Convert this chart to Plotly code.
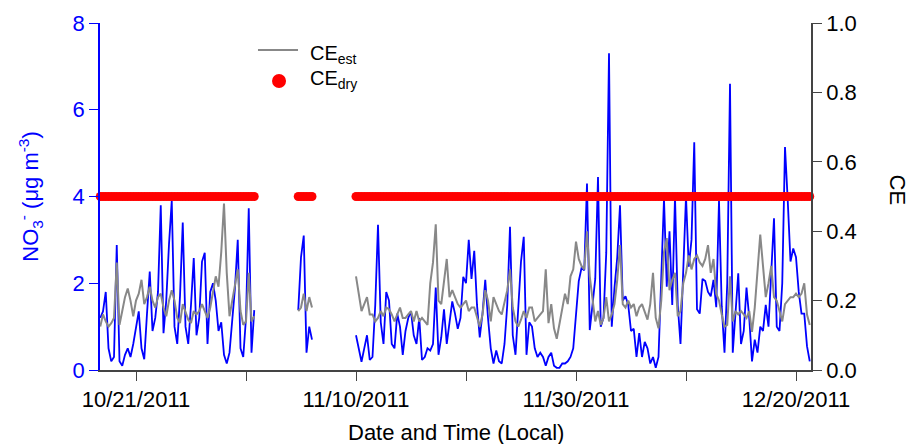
import pandas as pd
import plotly.graph_objects as go

# ---------------- data ----------------
# three measurement periods, values every 6 hours
SEG_STARTS = ["2011-10-17 18:00", "2011-11-04 18:00", "2011-11-10 00:00"]
STEP = "6h"

NO3_SEG1 = [1.2, 1.35, 1.8, 0.5, 0.2, 0.3, 2.88, 0.2, 0.1, 0.35, 0.5, 0.3, 0.6, 1.0, 1.35,
            0.5, 0.25, 1.3, 2.27, 0.9, 1.2, 1.8, 3.8, 0.85, 1.6, 2.9, 3.9, 1.0, 0.6, 1.7,
            3.4, 1.0, 0.6, 1.5, 2.58, 0.8, 1.2, 2.5, 2.7, 0.6, 1.8, 2.0, 1.6, 0.9, 1.1,
            0.35, 0.15, 0.4, 1.1, 1.9, 3.0, 0.5, 0.3, 1.2, 3.73, 0.4, 1.38]
CE_EST_SEG1 = [0.125, 0.16, 0.14, 0.125, 0.135, 0.15, 0.31, 0.13, 0.17, 0.21, 0.235, 0.2,
               0.155, 0.2, 0.22, 0.26, 0.19, 0.21, 0.24, 0.2, 0.18, 0.21, 0.22, 0.18, 0.155,
               0.2, 0.23, 0.2, 0.15, 0.135, 0.19, 0.17, 0.145, 0.135, 0.17, 0.16, 0.17, 0.19,
               0.17, 0.15, 0.18, 0.22, 0.27, 0.24, 0.34, 0.48, 0.28, 0.155, 0.2, 0.25, 0.29,
               0.17, 0.13, 0.14, 0.28, 0.14, 0.155]

NO3_SEG2 = [1.38, 2.6, 3.1, 0.4, 1.0, 0.7]
CE_EST_SEG2 = [0.17, 0.18, 0.22, 0.17, 0.21, 0.18]

NO3_SEG3 = [0.8, 0.46, 0.19, 0.5, 0.8, 0.23, 0.3, 1.5, 3.35, 1.1,
            0.6, 1.8, 1.6, 0.6, 0.5, 1.3, 1.0, 0.35, 0.9, 1.2,
            1.35, 0.8, 0.6, 1.2, 0.23, 0.3, 0.5, 0.45, 0.6, 1.9,
            0.35, 0.75, 1.4, 0.6, 1.1, 1.58, 1.3, 0.95, 1.2, 2.15,
            2.0, 3.0, 2.1, 2.75, 1.5, 0.75, 1.3, 2.08, 1.2, 0.5,
            0.15, 0.45, 0.2, 0.15, 0.6, 1.5, 3.3, 0.8, 0.35, 1.4,
            2.5, 3.07, 0.35, 1.1, 1.0, 0.5, 0.3, 0.4, 0.3, 0.1,
            0.3, 0.4, 0.1, 0.05, 0.05, 0.15, 0.15, 0.2, 0.3, 0.5,
            1.3, 2.05, 2.35, 2.3, 4.3, 0.92, 1.5, 2.1, 4.45, 1.0,
            1.2, 2.7, 7.3, 1.0, 1.9, 2.6, 3.8, 1.6, 1.7, 1.5,
            0.9, 0.95, 0.3, 0.85, 0.3, 0.65, 0.5, 0.15, 0.3, 0.05,
            0.3, 2.3, 3.95, 1.92, 3.2, 1.5, 4.0, 1.5, 0.6, 2.3,
            4.0, 2.38, 3.0, 5.25, 1.4, 1.3, 2.1, 2.05, 1.8, 1.7,
            2.08, 1.45, 3.9, 1.46, 0.4, 2.0, 6.6, 0.4, 1.3, 2.23,
            0.6, 0.9, 1.9, 1.2, 0.2, 0.7, 0.4, 1.0, 0.9, 1.5,
            1.0, 2.2, 3.5, 1.0, 0.9, 2.0, 5.14, 3.9, 2.5, 2.8,
            2.6, 1.8, 1.3, 1.3, 0.55, 0.2]
CE_EST_SEG3 = [0.27, 0.22, 0.17, 0.19, 0.21, 0.16, 0.16, 0.14, 0.15, 0.17,
               0.155, 0.18, 0.175, 0.16, 0.14, 0.16, 0.18, 0.15, 0.15, 0.16,
               0.17, 0.14, 0.17, 0.14, 0.15, 0.14, 0.13, 0.25, 0.31, 0.42,
               0.2, 0.19, 0.25, 0.32, 0.21, 0.23, 0.21, 0.19, 0.18, 0.19,
               0.2, 0.17, 0.18, 0.18, 0.155, 0.125, 0.16, 0.23, 0.2, 0.14,
               0.21, 0.19, 0.17, 0.16, 0.2, 0.23, 0.29, 0.18, 0.14, 0.125,
               0.145, 0.17, 0.15, 0.18, 0.18, 0.14, 0.15, 0.16, 0.17, 0.29,
               0.135, 0.19, 0.12, 0.09, 0.13, 0.17, 0.22, 0.19, 0.27, 0.29,
               0.37, 0.32, 0.3, 0.29, 0.4, 0.27, 0.2, 0.14, 0.17, 0.13,
               0.15, 0.21, 0.14, 0.16, 0.19, 0.26, 0.36, 0.19, 0.18, 0.2,
               0.18, 0.19, 0.155, 0.18, 0.19, 0.17, 0.145, 0.19, 0.28, 0.15,
               0.12, 0.2, 0.34, 0.38, 0.23, 0.26, 0.28, 0.155, 0.17, 0.25,
               0.28, 0.33, 0.29, 0.32, 0.33, 0.31, 0.3, 0.32, 0.36, 0.28,
               0.32, 0.22, 0.2, 0.16, 0.125, 0.13, 0.27, 0.14, 0.17, 0.16,
               0.17, 0.16, 0.15, 0.17, 0.11, 0.18, 0.28, 0.39, 0.3, 0.21,
               0.25, 0.3, 0.21, 0.2, 0.17, 0.14, 0.19, 0.2, 0.21, 0.21,
               0.22, 0.21, 0.22, 0.25, 0.16, 0.13]

CE_DRY = 0.5  # constant dry collection efficiency

X_TICK_DATES = ["2011-10-21", "2011-10-31", "2011-11-10", "2011-11-20",
                "2011-11-30", "2011-12-10", "2011-12-20"]
X_TICK_LABELS = ["10/21/2011", "", "11/10/2011", "", "11/30/2011", "", "12/20/2011"]
Y1_TICKS = [0, 2, 4, 6, 8]
Y2_TICKS = [0.0, 0.2, 0.4, 0.6, 0.8, 1.0]
LEGEND_NAMES = ["CE<sub>est</sub>", "CE<sub>dry</sub>"]

# ---------------- assemble series ----------------
NO3_SEGS = [NO3_SEG1, NO3_SEG2, NO3_SEG3]
CE_SEGS = [CE_EST_SEG1, CE_EST_SEG2, CE_EST_SEG3]

x_line, y_no3, y_ce = [], [], []
x_dry, y_dry = [], []
for start, no3, ce in zip(SEG_STARTS, NO3_SEGS, CE_SEGS):
    t = list(pd.date_range(start, periods=len(no3), freq=STEP))
    if x_line:
        x_line.append(None)
        y_no3.append(None)
        y_ce.append(None)
    x_line += t
    y_no3 += no3
    y_ce += ce
    x_dry += t
    y_dry += [CE_DRY for _ in t]

FONT = "Liberation Sans, Arial, Helvetica, sans-serif"
BLUE = "#0000FF"
GRAY = "#888888"
RED = "#FF0000"
AX = "#444444"
FS = 22

fig = go.Figure()
fig.add_trace(go.Scatter(x=x_line, y=y_no3, mode="lines", yaxis="y",
                         line=dict(color=BLUE, width=1.8), showlegend=False))
fig.add_trace(go.Scatter(x=x_line, y=y_ce, mode="lines", yaxis="y2",
                         line=dict(color=GRAY, width=2), showlegend=False))
fig.add_trace(go.Scatter(x=x_dry, y=y_dry, mode="markers", yaxis="y2",
                         marker=dict(color=RED, size=9, line=dict(width=0)),
                         cliponaxis=False, showlegend=False))

# hand-placed legend (paper coordinates)
LEG_X_LINE = (0.2222, 0.2785)
LEG_Y = (0.9222, 0.8329)
LEG_X_DOT = 0.2518
LEG_X_TEXT = 0.2925

shapes = [
    dict(type="line", xref="paper", yref="paper",
         x0=LEG_X_LINE[0], x1=LEG_X_LINE[1], y0=LEG_Y[0], y1=LEG_Y[0],
         line=dict(color=GRAY, width=2)),
    dict(type="circle", xref="paper", yref="paper",
         xsizemode="pixel", ysizemode="pixel",
         xanchor=LEG_X_DOT, yanchor=LEG_Y[1], x0=-7, x1=7, y0=-7, y1=7,
         fillcolor=RED, line=dict(width=0)),
]
annotations = [
    dict(text=LEGEND_NAMES[0], xref="paper", yref="paper", x=LEG_X_TEXT, y=LEG_Y[0],
         xanchor="left", yanchor="middle", yshift=-5, showarrow=False,
         font=dict(size=20, color="black")),
    dict(text=LEGEND_NAMES[1], xref="paper", yref="paper", x=LEG_X_TEXT, y=LEG_Y[1],
         xanchor="left", yanchor="middle", yshift=1, showarrow=False,
         font=dict(size=20, color="black")),
    dict(text="CE", xref="paper", yref="paper", x=1.121, y=0.52,
         xanchor="center", yanchor="middle",
         showarrow=False, textangle=90, font=dict(size=FS, color="black")),
    dict(text="Date and Time (Local)", xref="paper", yref="paper", x=0.5, y=-0.1787,
         xanchor="center", yanchor="middle",
         showarrow=False, font=dict(size=FS, color="black")),
]

fig.update_layout(
    width=910, height=444,
    margin=dict(l=100, r=99, t=23, b=74, autoexpand=False),
    paper_bgcolor="white", plot_bgcolor="white",
    font=dict(family=FONT, size=FS, color="black"),
    showlegend=False,
    shapes=shapes,
    annotations=annotations,
    xaxis=dict(type="date",
               range=["2011-10-17 17:27", "2011-12-21 08:44"],
               tickvals=X_TICK_DATES, ticktext=X_TICK_LABELS,
               ticks="outside", ticklen=9, tickwidth=1.2, tickcolor=AX,
               showline=True, linecolor=AX, linewidth=1.5,
               showgrid=False, zeroline=False, automargin=False,
               tickfont=dict(size=FS, color="black")),
    yaxis=dict(range=[0, 8], tickvals=Y1_TICKS,
               ticks="outside", ticklen=9, tickwidth=1.2, tickcolor=BLUE,
               showline=True, linecolor=BLUE, linewidth=1.5,
               showgrid=False, zeroline=False,
               tickfont=dict(size=FS, color=BLUE),
               title=dict(text="NO<sub>3</sub><sup>-</sup> (μg m<sup>-3</sup>)",
                          font=dict(size=FS, color=BLUE), standoff=28)),
    yaxis2=dict(range=[0, 1.0], tickvals=Y2_TICKS, tickformat=".1f",
                overlaying="y", side="right",
                ticks="outside", ticklen=9, tickwidth=1.2, tickcolor=AX,
                showline=True, linecolor=AX, linewidth=1.5,
                showgrid=False, zeroline=False, automargin=False,
                tickfont=dict(size=FS, color="black")),
)

fig.write_html("out.html")
